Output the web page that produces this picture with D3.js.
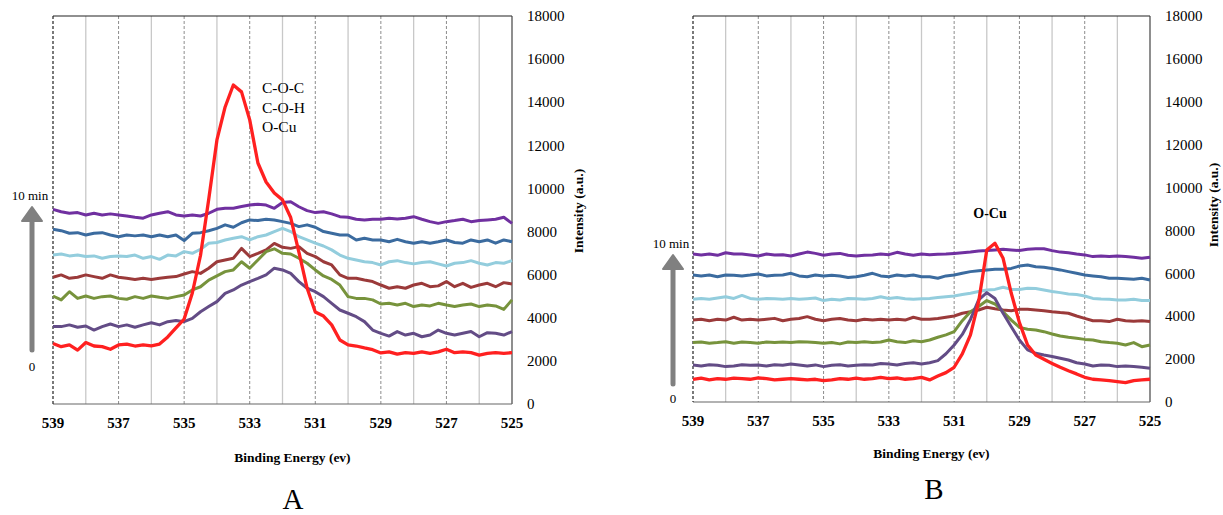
<!DOCTYPE html>
<html>
<head>
<meta charset="utf-8">
<script src="https://cdn.jsdelivr.net/npm/d3@7"></script>
<style>
body { margin: 0; background: #fff; }
svg { display: block; }
text { font-family: "Liberation Serif", "Times New Roman", Times, serif; fill: #000; }
</style>
</head>
<body>
<svg width="1223" height="515" font-family="Liberation Serif, Times New Roman, serif"></svg>
<script>
// binding energy sampling (eV), high -> low as on the axis
var energy = [539, 538.75, 538.5, 538.25, 538, 537.75, 537.5, 537.25, 537, 536.75,
    536.5, 536.25, 536, 535.75, 535.5, 535.25, 535, 534.75, 534.5, 534.25,
    534, 533.75, 533.5, 533.25, 533, 532.75, 532.5, 532.25, 532, 531.75,
    531.5, 531.25, 531, 530.75, 530.5, 530.25, 530, 529.75, 529.5, 529.25,
    529, 528.75, 528.5, 528.25, 528, 527.75, 527.5, 527.25, 527, 526.75,
    526.5, 526.25, 526, 525.75, 525.5, 525.25, 525];

var xTicks = [539, 537, 535, 533, 531, 529, 527, 525];
var yTicks = [0, 2000, 4000, 6000, 8000, 10000, 12000, 14000, 16000, 18000];

// panel A, from top (10 min) to bottom (0)
var a10 = [9030,8920,8850,8880,8770,8850,8770,8820,8770,8720, 8660,8620,8770,8850,8920,8770,8720,8770,8720,8850,
    9030,9080,9080,9160,9230,9270,9230,9080,9350,9380, 9150,8970,8880,8920,8820,8690,8660,8570,8540,8570,
    8570,8620,8580,8620,8690,8570,8460,8380,8460,8510, 8570,8460,8510,8540,8570,8660,8380];
var a8 = [8110,8040,7920,7950,7840,7920,7950,7840,7760,7840, 7800,7840,7760,7840,7760,7840,7580,7920,7950,8040,
    8150,8310,8200,8410,8540,8510,8570,8540,8460,8380, 8230,8310,8200,8000,7920,7840,7840,7610,7690,7610,
    7610,7530,7640,7530,7460,7530,7460,7530,7610,7490, 7460,7610,7530,7610,7460,7610,7530];
var a6 = [6910,6960,6870,6910,6840,6870,6760,6840,6870,6840, 6910,6760,6840,6710,6910,6870,7070,6990,7180,7460,
    7490,7610,7690,7760,7610,7760,7840,8000,8150,8000, 7760,7610,7460,7330,7150,6910,6760,6680,6600,6560,
    6450,6600,6650,6560,6500,6560,6600,6500,6400,6530, 6560,6650,6530,6450,6560,6530,6650];
var a4 = [5880,5990,5830,5880,5990,5910,5830,5990,5880,5830, 5780,5830,5780,5830,5880,5910,6030,6140,6060,6300,
    6600,6680,6760,7220,6840,6990,7150,7450,7270,7220, 7300,6990,6840,6600,6450,5990,5830,5830,5750,5680,
    5520,5370,5440,5370,5520,5600,5440,5480,5680,5440, 5600,5410,5520,5600,5440,5630,5570];
var a2 = [5010,4830,5210,4900,5010,4900,4980,5010,4900,4860, 4980,4900,5010,4950,4900,4980,5060,5290,5440,5750,
    5940,6140,6220,6600,6300,6680,7070,7200,6990,6960, 6760,6530,6220,5940,5780,5520,4980,4900,4900,4830,
    4640,4670,4590,4670,4520,4590,4550,4670,4590,4520, 4590,4640,4520,4590,4550,4390,4830];
var a1 = [3590,3590,3670,3560,3620,3430,3590,3710,3590,3670, 3560,3670,3770,3670,3820,3870,3820,3970,4280,4520,
    4750,5130,5290,5520,5680,5830,5990,6300,6220,6060, 5680,5370,5210,4980,4670,4360,4210,4050,3820,3430,
    3280,3150,3360,3200,3280,3120,3200,3430,3280,3200, 3280,3360,3120,3310,3280,3200,3360];
var a0 = [2810,2660,2740,2500,2850,2690,2660,2540,2740,2780, 2690,2740,2700,2780,3110,3530,3940,5150,6900,9500,
    12250,13780,14800,14480,13180,11180,10300,9790,9470,8650, 7050,5380,4270,4080,3670,2970,2740,2690,2600,2520,
    2370,2420,2310,2380,2350,2420,2350,2420,2540,2380, 2420,2380,2270,2350,2380,2350,2380];

// panel B, same order
var b10 = [6900,6860,6900,6840,6960,6900,6900,6860,6810,6900, 6860,6870,6810,6900,6990,6930,6840,6900,6930,6840,
    6810,6840,6860,6900,6870,6980,6900,6840,6900, 6870,6890,6900,6930,6960,6990,7040,7060,7090,7120,
    7090,7060,7120,7150,7150,7060,6990,6960,6900,6860, 6780,6810,6780,6810,6780,6750,6700,6750];
var b8 = [5920,5880,5920,5840,5920,5910,5880,5920,5970,5880, 5910,5920,6000,5880,5840,5920,5880,5910,5880,5810,
    5840,5910,6000,5880,5840,5920,5880,5920,5840, 5840,5770,5880,5920,6000,6080,6120,6160,6190,6190,
    6230,6340,6390,6310,6280,6230,6160,6080,6000,5920, 5880,5840,5770,5770,5750,5720,5770,5690];
var b6 = [4790,4830,4790,4850,4910,4830,4970,4830,4790,4830, 4820,4790,4830,4790,4820,4850,4730,4790,4760,4830,
    4820,4790,4830,4910,4830,4870,4820,4790,4820, 4830,4870,4910,4940,5010,5070,5150,5220,5250,5350,
    5250,5250,5300,5290,5220,5150,5100,5040,5010,4940, 4830,4800,4790,4760,4760,4790,4730,4730];
var b4 = [3820,3860,3790,3860,3820,3950,3820,3860,3820,3860, 3900,3790,3860,3890,3980,3860,3790,3860,3890,3820,
    3790,3860,3820,3860,3820,3860,3820,3950,3860, 3860,3890,3950,4010,4140,4210,4290,4420,4350,4290,
    4260,4320,4320,4290,4260,4210,4170,4140,4010,3900, 3790,3790,3750,3860,3790,3760,3790,3750];
var b2 = [2770,2800,2740,2770,2810,2740,2800,2770,2740,2800, 2770,2800,2770,2810,2800,2770,2740,2770,2710,2800,
    2770,2810,2770,2800,2890,2810,2770,2860,2810, 2890,3020,3130,3280,3790,4210,4450,4730,4570,4210,
    3820,3480,3390,3360,3280,3170,3080,3020,2970,2920, 2890,2810,2770,2740,2660,2770,2580,2660];
var b1 = [1730,1680,1740,1710,1650,1680,1740,1710,1730,1680, 1740,1710,1770,1730,1680,1730,1650,1710,1740,1680,
    1710,1740,1730,1800,1770,1730,1800,1830,1770, 1830,1930,2250,2660,3150,3850,4760,5100,4830,4140,
    3510,2890,2430,2270,2190,2120,2040,1960,1830,1770, 1680,1730,1710,1650,1680,1650,1620,1570];
var b0 = [1060,1110,1030,1090,1060,1110,1090,1060,1120,1090, 1030,1060,1090,1060,1030,1060,1000,1030,1090,1060,
    1110,1060,1090,1150,1090,1120,1060,1090,1150, 1030,1210,1370,1620,2240,3130,4680,7090,7400,6700,
    5070,3700,2660,2190,1990,1800,1620,1460,1310,1150, 1060,1030,1000,950,900,1000,1030,1060];

var lineColors = ["#7030a0", "#3b6b9f", "#93cddd", "#9b3a3a", "#77933c", "#634c86", "#ff2020"];

var svg = d3.select("svg");
svg.append("rect").attr("width", 1223).attr("height", 515).attr("fill", "#fff");

function drawPanel(p) {
    var x = d3.scaleLinear().domain([539, 525]).range([p.left, p.right]);
    var y = d3.scaleLinear().domain([0, 18000]).range([p.bottom, p.top]);
    var g = svg.append("g");

    // vertical grid
    d3.range(538, 525, -1).forEach(function (e) {
        var odd = e % 2 === 1;
        g.append("line")
            .attr("x1", x(e)).attr("x2", x(e))
            .attr("y1", p.top).attr("y2", p.bottom)
            .attr("stroke", odd ? "#8c8c8c" : "#c8c8c8")
            .attr("stroke-width", odd ? 1 : 1.3)
            .attr("stroke-dasharray", odd ? "3,2" : null);
    });

    // frame
    g.append("line").attr("x1", p.left).attr("x2", p.right).attr("y1", p.top).attr("y2", p.top)
        .attr("stroke", "#222").attr("stroke-width", 1.2);
    g.append("line").attr("x1", p.right).attr("x2", p.right).attr("y1", p.top).attr("y2", p.bottom)
        .attr("stroke", "#444").attr("stroke-width", 1.2);
    g.append("line").attr("x1", p.left).attr("x2", p.right).attr("y1", p.bottom).attr("y2", p.bottom)
        .attr("stroke", "#666").attr("stroke-width", 1.2);
    g.append("line").attr("x1", p.left).attr("x2", p.left).attr("y1", p.top).attr("y2", p.bottom)
        .attr("stroke", "#222").attr("stroke-width", 1.2).attr("stroke-dasharray", "3,2");

    var line = d3.line()
        .x(function (d, i) { return x(energy[i]); })
        .y(function (d) { return y(d); });

    p.series.forEach(function (s, k) {
        g.append("path")
            .datum(s)
            .attr("d", line)
            .attr("fill", "none")
            .attr("stroke", lineColors[k])
            .attr("stroke-width", k === 6 ? 3.3 : 3)
            .attr("stroke-linejoin", "round");
    });

    // y tick labels on the right
    g.selectAll("text.ytick")
        .data(yTicks)
        .enter()
        .append("text")
        .attr("class", "ytick")
        .attr("x", p.right + 15)
        .attr("y", function (d) { return y(d); })
        .attr("dy", "0.35em")
        .style("font-size", "15px")
        .text(function (d) { return d; });

    // x tick labels
    g.selectAll("text.xtick")
        .data(xTicks)
        .enter()
        .append("text")
        .attr("class", "xtick")
        .attr("x", function (d) { return x(d); })
        .attr("y", p.bottom + 24)
        .attr("text-anchor", "middle")
        .style("font-size", "15px")
        .style("font-weight", "bold")
        .text(function (d) { return d; });

    g.append("text")
        .attr("x", (p.left + p.right) / 2 + 10)
        .attr("y", p.xTitleY)
        .attr("text-anchor", "middle")
        .style("font-size", "13.5px")
        .style("font-weight", "bold")
        .text("Binding Energy (ev)");

    g.append("text")
        .attr("transform", "translate(" + p.yTitleX + "," + p.yTitleY + ") rotate(-90)")
        .attr("text-anchor", "middle")
        .style("font-size", "13.5px")
        .style("font-weight", "bold")
        .text("Intensity (a.u.)");

    // time arrow
    g.append("line")
        .attr("x1", p.arrowX).attr("x2", p.arrowX)
        .attr("y1", p.arrowBottom).attr("y2", p.arrowTop + 10)
        .attr("stroke", "#808080").attr("stroke-width", 5).attr("stroke-linecap", "round");
    g.append("path")
        .attr("d", "M" + p.arrowX + "," + p.arrowTop + " L" + (p.arrowX + 10) + "," + (p.arrowTop + 14) +
            " L" + (p.arrowX - 10) + "," + (p.arrowTop + 14) + " Z")
        .attr("fill", "#808080").attr("stroke", "#808080").attr("stroke-width", 2).attr("stroke-linejoin", "round");
    g.append("text")
        .attr("x", p.arrowX - 2).attr("y", p.arrowTop - 7)
        .attr("text-anchor", "middle")
        .style("font-size", "13px")
        .text("10 min");
    g.append("text")
        .attr("x", p.arrowX).attr("y", p.zeroY)
        .attr("text-anchor", "middle")
        .style("font-size", "13px")
        .text("0");

    g.append("text")
        .attr("x", p.letterX).attr("y", p.letterY)
        .attr("text-anchor", "middle")
        .style("font-size", "29px")
        .text(p.letter);

    return { x: x, y: y, g: g };
}

var A = drawPanel({
    left: 53, right: 512, top: 16, bottom: 404,
    series: [a10, a8, a6, a4, a2, a1, a0],
    xTitleY: 462, yTitleX: 583, yTitleY: 211,
    arrowX: 32, arrowTop: 207, arrowBottom: 350, zeroY: 371,
    letter: "A", letterX: 293, letterY: 509
});

["C-O-C", "C-O-H", "O-Cu"].forEach(function (t, i) {
    A.g.append("text")
        .attr("x", 262).attr("y", 93 + i * 19.5)
        .style("font-size", "15.5px")
        .text(t);
});

var B = drawPanel({
    left: 693, right: 1150, top: 16, bottom: 402,
    series: [b10, b8, b6, b4, b2, b1, b0],
    xTitleY: 458, yTitleX: 1218, yTitleY: 205,
    arrowX: 673, arrowTop: 255, arrowBottom: 384, zeroY: 403,
    letter: "B", letterX: 934, letterY: 499
});

B.g.append("text")
    .attr("x", 990).attr("y", 218)
    .attr("text-anchor", "middle")
    .style("font-size", "14px")
    .style("font-weight", "bold")
    .text("O-Cu");
</script>
</body>
</html>
